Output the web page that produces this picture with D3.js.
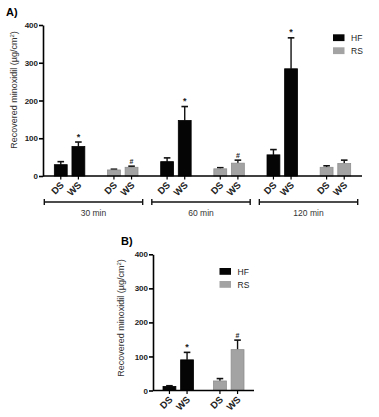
<!DOCTYPE html>
<html>
  <head>
    <meta charset="utf-8">
    <title>Recovered minoxidil</title>
    <script src="https://cdn.jsdelivr.net/npm/d3@7"></script>
    <style>
      body { margin: 0; background: #fff; }
      svg { display: block; font-family: "Liberation Sans", Arial, sans-serif; }
      .axis path, .axis line { stroke: #000; stroke-width: 1.6px; }
      .axis text { font-size: 8px; font-weight: bold; fill: #222; }
      .ylab { font-size: 9px; fill: #333; }
      .xlab { font-size: 9.5px; font-weight: bold; fill: #222; }
      .panel { font-size: 11px; font-weight: bold; }
      .leg { font-size: 8.5px; fill: #222; }
    </style>
  </head>
  <body>
    <script>
    // ---- data ----
    const times = ["30 min", "60 min", "120 min"];
    const groups = ["HF", "RS"];
    const samples = ["DS", "WS"];
    const yTicks = [0, 100, 200, 300, 400];

    // panel A, per time: [DS, WS]
    const hfMeanA = [[30, 78], [38, 147], [56, 284]];
    const hfErrA  = [[8, 12], [10, 37], [14, 82]];
    const rsMeanA = [[16, 23], [19, 34], [23, 33]];
    const rsErrA  = [[2, 3], [3, 8], [4, 9]];
    const hfMarkA = [["", "*"], ["", "*"], ["", "*"]];
    const rsMarkA = [["", "#"], ["", "#"], ["", ""]];

    // panel B: [DS, WS]
    const hfMeanB = [12, 90];
    const hfErrB  = [2, 22];
    const rsMeanB = [28, 120];
    const rsErrB  = [7, 28];
    const hfMarkB = ["", "*"];
    const rsMarkB = ["", "#"];

    const colors = {HF: "#050505", RS: "#a3a3a3"};

    const svg = d3.select("body").append("svg")
      .attr("width", 379).attr("height", 417);
    svg.append("rect").attr("width", 379).attr("height", 417).attr("fill", "#fff");

    // build flat rows
    function rowsFor(pairs) {
      let rows = [];
      pairs.forEach(p => {
        samples.forEach((s, i) => {
          rows.push({pair: p.key, group: p.group, sample: s, mean: p.mean[i], err: p.err[i], mark: p.mark[i]});
        });
      });
      return rows;
    }

    function drawPanel(cfg) {
      const g = svg.append("g");
      const y = d3.scaleLinear().domain([0, 400]).range([cfg.y0, cfg.y1]);
      const xp = d3.scaleBand().domain(cfg.pairs.map(p => p.key)).range([cfg.x0, cfg.x1]);
      const xs = d3.scaleBand().domain(samples).range([xp.bandwidth() / 2 - 20, xp.bandwidth() / 2 + 20]).padding(0.27);
      const rows = rowsFor(cfg.pairs);

      const bar = g.selectAll(".bar").data(rows).enter().append("g")
        .attr("transform", d => "translate(" + (xp(d.pair) + xs(d.sample)) + ",0)");
      const bw = xs.bandwidth();

      // error bars (upper only)
      bar.append("line")
        .attr("x1", bw / 2).attr("x2", bw / 2)
        .attr("y1", d => y(d.mean)).attr("y2", d => y(d.mean + d.err))
        .attr("stroke", "#111").attr("stroke-width", 1.4);
      bar.append("line")
        .attr("x1", bw / 2 - 3.3).attr("x2", bw / 2 + 3.3)
        .attr("y1", d => y(d.mean + d.err)).attr("y2", d => y(d.mean + d.err))
        .attr("stroke", "#111").attr("stroke-width", 1.6);

      bar.append("rect")
        .attr("y", d => y(d.mean))
        .attr("width", bw)
        .attr("height", d => y(0) - y(d.mean))
        .attr("fill", d => colors[d.group])
        .attr("stroke", d => d.group === "HF" ? "#000" : "#8f8f8f")
        .attr("stroke-width", 0.8);

      bar.append("text")
        .attr("x", bw / 2)
        .attr("y", d => y(d.mean + d.err) - 2.5)
        .attr("text-anchor", "middle")
        .style("font-size", d => d.mark === "*" ? "9px" : "7px")
        .style("font-weight", "bold")
        .attr("fill", "#222")
        .text(d => d.mark);

      // y axis
      g.append("g").attr("class", "axis")
        .attr("transform", "translate(" + cfg.x0 + ",0)")
        .call(d3.axisLeft(y).tickValues(yTicks).tickSize(4).tickSizeOuter(0).tickPadding(1));

      // x axis line with small ticks
      g.append("line").attr("x1", cfg.x0).attr("x2", cfg.x1)
        .attr("y1", y(0)).attr("y2", y(0))
        .attr("stroke", "#000").attr("stroke-width", 1.6);
      bar.append("line")
        .attr("x1", bw / 2).attr("x2", bw / 2)
        .attr("y1", y(0)).attr("y2", y(0) + 3.5)
        .attr("stroke", "#000").attr("stroke-width", 1.2);
      bar.append("text").attr("class", "xlab")
        .attr("text-anchor", "end")
        .attr("transform", "translate(" + (bw / 2 - 1) + "," + (y(0) + 5) + ") rotate(-45)")
        .attr("dy", "0.7em")
        .text(d => d.sample);

      // y label
      g.append("text").attr("class", "ylab")
        .attr("transform", "translate(" + cfg.ylabX + "," + cfg.ylabY + ") rotate(-90)")
        .attr("text-anchor", "middle")
        .html("Recovered minoxidil (µg/cm<tspan dy='-3' style='font-size:6px'>2</tspan><tspan dy='3'>)</tspan>");

      // panel label
      g.append("text").attr("class", "panel")
        .attr("x", cfg.labX).attr("y", cfg.labY).text(cfg.label);

      // legend
      groups.forEach((k, i) => {
        g.append("rect")
          .attr("x", cfg.legX).attr("y", cfg.legY + i * 13)
          .attr("width", 11.5).attr("height", 6.8)
          .attr("fill", colors[k]);
        g.append("text").attr("class", "leg")
          .attr("x", cfg.legX + 18).attr("y", cfg.legY + i * 13 + 6.5)
          .text(k);
      });
      return {g, y};
    }

    // panel A
    const pairsA = [];
    times.forEach((t, ti) => {
      pairsA.push({key: t + "|HF", group: "HF", mean: hfMeanA[ti], err: hfErrA[ti], mark: hfMarkA[ti]});
      pairsA.push({key: t + "|RS", group: "RS", mean: rsMeanA[ti], err: rsErrA[ti], mark: rsMarkA[ti]});
    });
    const A = drawPanel({
      pairs: pairsA, x0: 43, x1: 362, y0: 176, y1: 25,
      ylabX: 17, ylabY: 90, label: "A)", labX: 6, labY: 16,
      legX: 333, legY: 34.3
    });

    // time brackets
    const xt = d3.scaleBand().domain(times).range([44.3, 357.7]).paddingInner(0.085);
    const br = A.g.selectAll(".br").data(times).enter().append("g")
      .attr("transform", d => "translate(" + xt(d) + ",202)");
    br.append("line").attr("x1", 0).attr("x2", xt.bandwidth())
      .attr("stroke", "#111").attr("stroke-width", 1.4);
    br.append("line").attr("x1", 0).attr("x2", 0).attr("y1", -3).attr("y2", 3)
      .attr("stroke", "#111").attr("stroke-width", 1.4);
    br.append("line").attr("x1", xt.bandwidth()).attr("x2", xt.bandwidth()).attr("y1", -3).attr("y2", 3)
      .attr("stroke", "#111").attr("stroke-width", 1.4);
    br.append("text").attr("x", xt.bandwidth() / 2).attr("y", 14)
      .attr("text-anchor", "middle").style("font-size", "8.5px").attr("fill", "#333")
      .text(d => d);

    // panel B
    const pairsB = [
      {key: "HF", group: "HF", mean: hfMeanB, err: hfErrB, mark: hfMarkB},
      {key: "RS", group: "RS", mean: rsMeanB, err: rsErrB, mark: rsMarkB}
    ];
    drawPanel({
      pairs: pairsB, x0: 153, x1: 254, y0: 390.5, y1: 254.3,
      ylabX: 124, ylabY: 318, label: "B)", labX: 121, labY: 245,
      legX: 219.5, legY: 268
    });
    </script>
  </body>
</html>
